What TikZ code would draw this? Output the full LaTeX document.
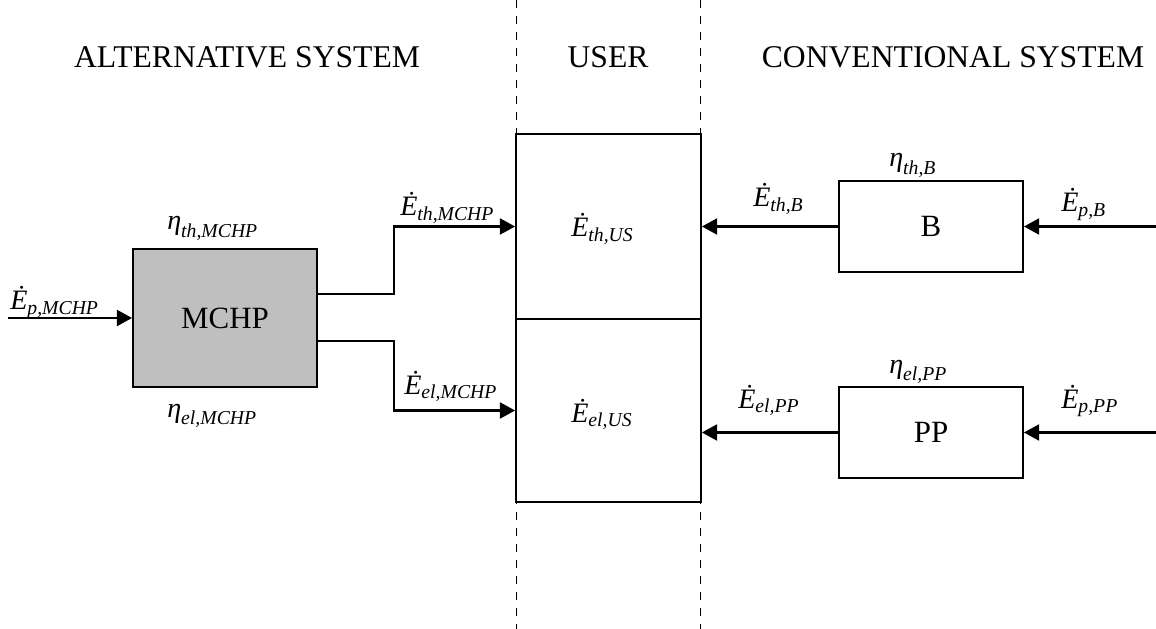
\documentclass[tikz,border=0pt]{standalone}
\usepackage{amsmath}
\usepackage{fontspec}
\setmainfont{Liberation Serif}
\usepackage{tikz}
\usetikzlibrary{arrows.meta, positioning}

\newcommand{\flowlab}[2]{$\textit{#1}_{\textit{#2}}$}
\newcommand{\Edot}{\.{E}}

\tikzset{
    hdr/.style={font=\fontsize{22.5}{27}\selectfont},
    lab/.style={font=\fontsize{20}{24}\selectfont, anchor=base west, inner sep=0pt},
    blk/.style={draw, line width=1.3pt, minimum width=4.6cm, font=\fontsize{22}{26}\selectfont},
    flow/.style={line width=1.6pt, -{Triangle[length=0.38cm, width=0.4cm]}},
    zone/.style={line width=0.7pt, dash pattern=on 0.2cm off 0.2cm}
}

\begin{document}
\begin{tikzpicture}[x=0.025cm, y=-0.025cm]
    \useasboundingbox (0,0) rectangle (1156,629);

    % zones
    \draw[zone] (516,0) -- (516,629);
    \draw[zone] (700,0) -- (700,629);
    \node[hdr] (halt) at (247,57) {ALTERNATIVE SYSTEM};
    \node[hdr] (huser) at (608,57) {USER};
    \node[hdr] (hconv) at (953,57) {CONVENTIONAL SYSTEM};

    % blocks
    \node[blk, fill=gray!50, minimum height=3.45cm] (mchp) at (225,318) {MCHP};
    \node[blk, minimum width=4.625cm, minimum height=4.625cm] (usth) at (608.5,226.5) {};
    \node[blk, minimum width=4.625cm, minimum height=4.575cm] (usel) at (608.5,410.5) {};
    \node[blk, minimum height=2.275cm] (boiler) at (931,226.5) {B};
    \node[blk, minimum height=2.275cm] (pp) at (931,432.5) {PP};

    % flows
    \coordinate (pin) at (8,318);
    \coordinate (bin) at (1156,226.5);
    \coordinate (ppin) at (1156,432.5);
    \draw[flow] (pin) -- (mchp.west);
    \draw[flow] ([yshift=0.6cm]mchp.east) -- ++(76,0) |- (usth.west);
    \draw[flow] ([yshift=-0.575cm]mchp.east) -- ++(76,0) |- (usel.west);
    \draw[flow] (bin) -- (boiler.east);
    \draw[flow] (boiler.west) -- (usth.east);
    \draw[flow] (ppin) -- (pp.east);
    \draw[flow] (pp.west) -- (pp.west -| usel.east);

    % labels
    \node[lab] (lpm) at (10,310) {\flowlab{\Edot}{p,MCHP}};
    \node[lab] (ltm) at (167,230) {\flowlab{η}{th,MCHP}};
    \node[lab] (lem) at (167,417) {\flowlab{η}{el,MCHP}};
    \node[lab] (lthm) at (400,216) {\flowlab{\Edot}{th,MCHP}};
    \node[lab] (lelm) at (404,394) {\flowlab{\Edot}{el,MCHP}};
    \node[lab] (lthu) at (571,237) {\flowlab{\Edot}{th,US}};
    \node[lab] (lelu) at (571,422) {\flowlab{\Edot}{el,US}};
    \node[lab] (ltb) at (889,167) {\flowlab{η}{th,B}};
    \node[lab] (lthb) at (753,207) {\flowlab{\Edot}{th,B}};
    \node[lab] (lpb) at (1061,212) {\flowlab{\Edot}{p,B}};
    \node[lab] (lepp) at (889,373) {\flowlab{η}{el,PP}};
    \node[lab] (lelp) at (738,408) {\flowlab{\Edot}{el,PP}};
    \node[lab] (lpp) at (1061,408) {\flowlab{\Edot}{p,PP}};
\end{tikzpicture}
\end{document}
